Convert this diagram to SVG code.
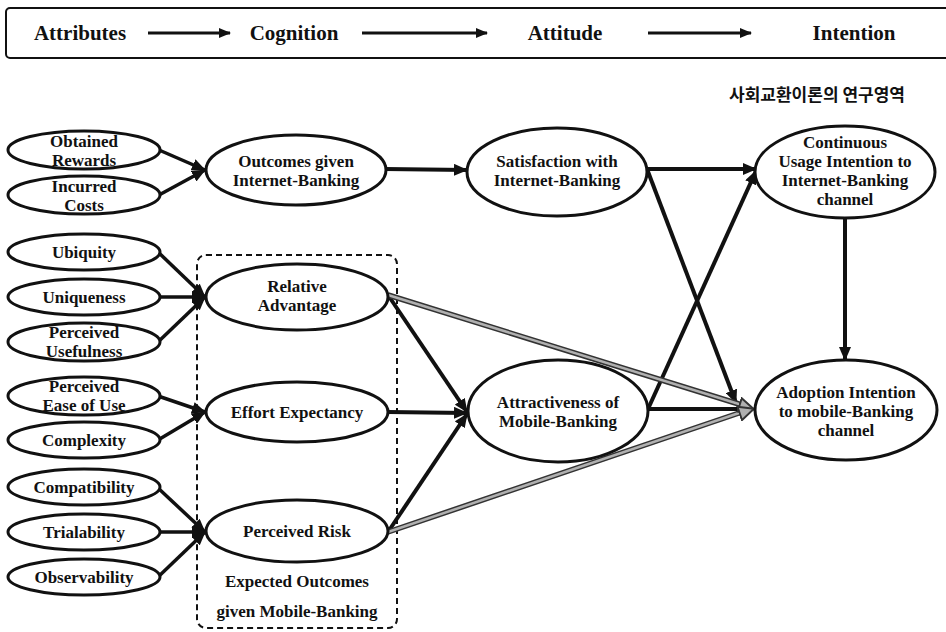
<svg xmlns="http://www.w3.org/2000/svg" width="946" height="632" viewBox="0 0 946 632">
<defs>
<style>
.t{font-family:"Liberation Serif","Times New Roman",serif;font-weight:bold;font-size:17px;fill:#111;text-anchor:middle}
.h{font-family:"Liberation Serif","Times New Roman",serif;font-weight:bold;font-size:21px;fill:#111;text-anchor:middle}
.k{font-family:"Noto Sans CJK KR","Noto Sans",sans-serif;font-weight:bold;font-size:17px;fill:#111;text-anchor:middle}
.n{fill:#fff;stroke:#111;stroke-width:3}
.c{fill:none;stroke:#111;stroke-width:4}
.s{fill:none;stroke:#111;stroke-width:3.5}
.hd{fill:none;stroke:#111;stroke-width:3}
.g1{fill:none;stroke:#333;stroke-width:5.5}
.g2{fill:none;stroke:#b0b0b0;stroke-width:2.5}
</style>
<marker id="a" markerUnits="userSpaceOnUse" markerWidth="14" markerHeight="12" refX="13" refY="6" orient="auto">
<path d="M0,0 L14,6 L0,12 z" fill="#111"/>
</marker>
<marker id="ah" markerUnits="userSpaceOnUse" markerWidth="12" markerHeight="10" refX="11" refY="5" orient="auto">
<path d="M0,0 L12,5 L0,10 z" fill="#111"/>
</marker>
<marker id="ag" markerUnits="userSpaceOnUse" markerWidth="18" markerHeight="16" refX="15" refY="8" orient="auto">
<path d="M1,1 L16,8 L1,15 z" fill="#b0b0b0" stroke="#333" stroke-width="2"/>
</marker>
</defs>
<rect width="946" height="632" fill="#fff"/>

<g id="header">
<rect x="6" y="8" width="960" height="50" rx="4" fill="none" stroke="#111" stroke-width="2"/>
<text class="h" x="80" y="40">Attributes</text>
<text class="h" x="294" y="40">Cognition</text>
<text class="h" x="565" y="40">Attitude</text>
<text class="h" x="854" y="40">Intention</text>
<line class="hd" x1="148" y1="33" x2="230" y2="33" marker-end="url(#ah)"/>
<line class="hd" x1="362" y1="33" x2="487" y2="33" marker-end="url(#ah)"/>
<line class="hd" x1="648" y1="33" x2="751" y2="33" marker-end="url(#ah)"/>
</g>

<text id="korean-label" class="k" x="817" y="101">사회교환이론의 연구영역</text>

<g id="expected-outcomes-box">
<rect x="197" y="255" width="200" height="373" rx="9" fill="none" stroke="#111" stroke-width="2" stroke-dasharray="6,4"/>
<text class="t" x="297" y="587">Expected Outcomes</text>
<text class="t" x="297" y="617">given Mobile-Banking</text>
</g>

<g id="connectors">
<path class="s" d="M159,150 L205,170" marker-end="url(#a)"/>
<path class="s" d="M159,195 L205,170" marker-end="url(#a)"/>
<path class="s" d="M158,252 L205,297" marker-end="url(#a)"/>
<path class="s" d="M160,297 L205,297" marker-end="url(#a)"/>
<path class="s" d="M158,342 L205,297" marker-end="url(#a)"/>
<path class="s" d="M158,396 L205,412" marker-end="url(#a)"/>
<path class="s" d="M158,440 L205,412" marker-end="url(#a)"/>
<path class="s" d="M158,488 L205,532" marker-end="url(#a)"/>
<path class="s" d="M160,532 L205,532" marker-end="url(#a)"/>
<path class="s" d="M158,577 L205,532" marker-end="url(#a)"/>
<path class="c" d="M385,169 L467,170" marker-end="url(#a)"/>
<path class="c" d="M647,169 L756,169" marker-end="url(#a)"/>
<path class="c" d="M647,169 L736,403" marker-end="url(#a)"/>
<path class="c" d="M648,409 L756,171" marker-end="url(#a)"/>
<path class="c" d="M648,409 L752,409" marker-end="url(#a)"/>
<path class="c" d="M845,218 L845,360" marker-end="url(#a)"/>
<path class="c" d="M388,295 L467,412" marker-end="url(#a)"/>
<path class="c" d="M388,412 L467,413" marker-end="url(#a)"/>
<path class="c" d="M388,532 L467,414" marker-end="url(#a)"/>
<path class="g1" d="M388,295 L742,405"/>
<path class="g2" d="M388,295 L742,405"/>
<path class="g1" d="M388,532 L742,412"/>
<path class="g2" d="M388,532 L742,412"/>
<path d="M388,295 L753,409" fill="none" stroke="none" marker-end="url(#ag)"/>
<path d="M388,532 L753,409" fill="none" stroke="none" marker-end="url(#ag)"/>
</g>

<g id="obtained-rewards"><ellipse class="n" cx="84" cy="150" rx="76" ry="19"/><text class="t" x="84" y="147">Obtained</text><text class="t" x="84" y="166">Rewards</text></g>
<g id="incurred-costs"><ellipse class="n" cx="84" cy="195" rx="76" ry="19"/><text class="t" x="84" y="192">Incurred</text><text class="t" x="84" y="211">Costs</text></g>
<g id="ubiquity"><ellipse class="n" cx="84" cy="252" rx="76" ry="18"/><text class="t" x="84" y="258">Ubiquity</text></g>
<g id="uniqueness"><ellipse class="n" cx="84" cy="297" rx="76" ry="18"/><text class="t" x="84" y="303">Uniqueness</text></g>
<g id="perceived-usefulness"><ellipse class="n" cx="84" cy="342" rx="76" ry="19"/><text class="t" x="84" y="338">Perceived</text><text class="t" x="84" y="357">Usefulness</text></g>
<g id="perceived-ease-of-use"><ellipse class="n" cx="84" cy="396" rx="76" ry="19"/><text class="t" x="84" y="392">Perceived</text><text class="t" x="84" y="411">Ease of Use</text></g>
<g id="complexity"><ellipse class="n" cx="84" cy="440" rx="76" ry="18"/><text class="t" x="84" y="446">Complexity</text></g>
<g id="compatibility"><ellipse class="n" cx="84" cy="487" rx="76" ry="18"/><text class="t" x="84" y="493">Compatibility</text></g>
<g id="trialability"><ellipse class="n" cx="84" cy="532" rx="76" ry="18"/><text class="t" x="84" y="538">Trialability</text></g>
<g id="observability"><ellipse class="n" cx="84" cy="577" rx="76" ry="18"/><text class="t" x="84" y="583">Observability</text></g>

<g id="outcomes-internet-banking"><ellipse class="n" cx="296" cy="170" rx="90" ry="35"/><text class="t" x="296" y="167">Outcomes given</text><text class="t" x="296" y="186">Internet-Banking</text></g>
<g id="relative-advantage"><ellipse class="n" cx="297" cy="297" rx="91" ry="33"/><text class="t" x="297" y="292">Relative</text><text class="t" x="297" y="311">Advantage</text></g>
<g id="effort-expectancy"><ellipse class="n" cx="297" cy="412" rx="91" ry="30"/><text class="t" x="297" y="418">Effort Expectancy</text></g>
<g id="perceived-risk"><ellipse class="n" cx="297" cy="531" rx="91" ry="31"/><text class="t" x="297" y="537">Perceived Risk</text></g>

<g id="satisfaction"><ellipse class="n" cx="557" cy="172" rx="90" ry="44"/><text class="t" x="557" y="167">Satisfaction with</text><text class="t" x="557" y="186">Internet-Banking</text></g>
<g id="attractiveness"><ellipse class="n" cx="558" cy="411" rx="90" ry="51"/><text class="t" x="558" y="408">Attractiveness of</text><text class="t" x="558" y="427">Mobile-Banking</text></g>

<g id="continuous-usage"><ellipse class="n" cx="845" cy="172" rx="90" ry="46"/><text class="t" x="845" y="148">Continuous</text><text class="t" x="845" y="167">Usage Intention to</text><text class="t" x="845" y="186">Internet-Banking</text><text class="t" x="845" y="205">channel</text></g>
<g id="adoption-intention"><ellipse class="n" cx="846" cy="410" rx="91" ry="50"/><text class="t" x="846" y="398">Adoption Intention</text><text class="t" x="846" y="417">to mobile-Banking</text><text class="t" x="846" y="436">channel</text></g>
</svg>
